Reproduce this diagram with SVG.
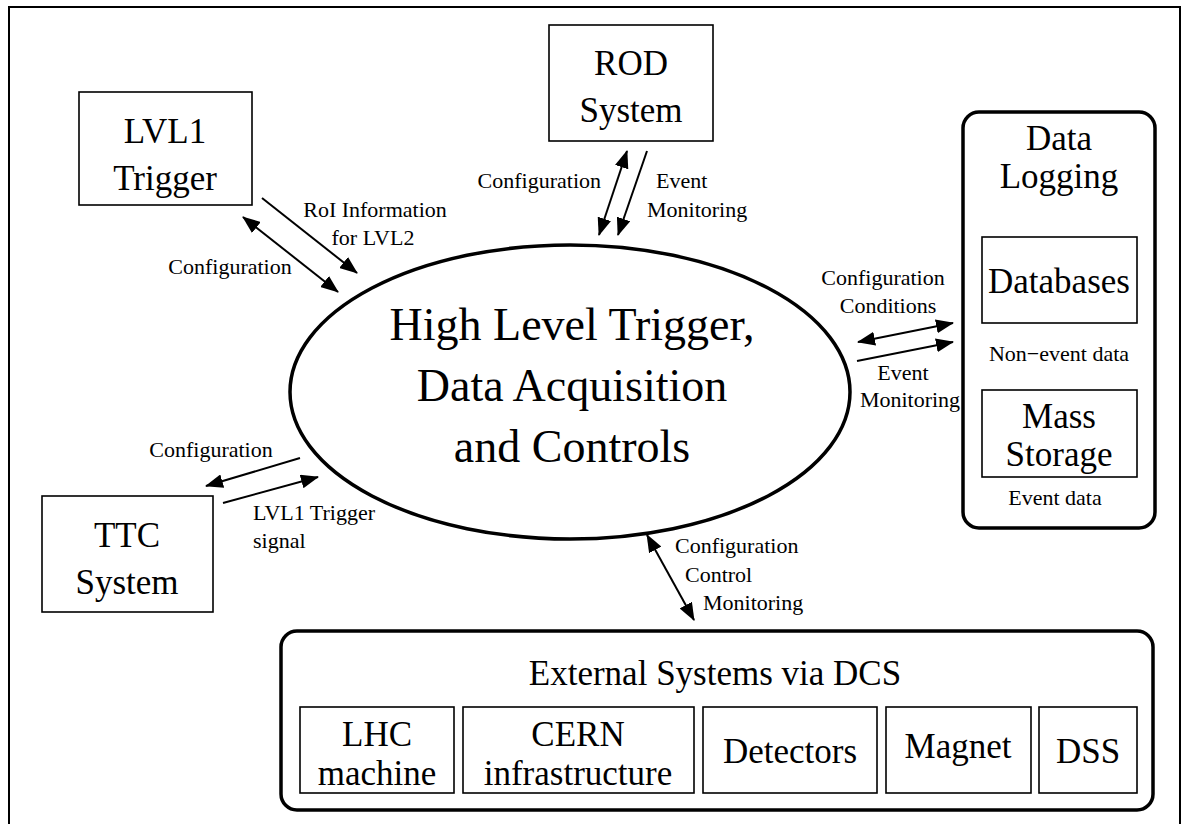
<svg xmlns="http://www.w3.org/2000/svg" width="1182" height="824" viewBox="0 0 1182 824">
<style>
text{font-family:"Liberation Serif","Times New Roman",serif;fill:#000}
.big{font-size:35px;text-anchor:middle}
.huge{font-size:46px;text-anchor:middle}
.sm{font-size:22px}
.mid{text-anchor:middle}
.end{text-anchor:end}
.box{fill:#fff;stroke:#000;stroke-width:1.6}
.rbox{fill:#fff;stroke:#000;stroke-width:3.5}
.c{stroke:#000;stroke-width:2;fill:none}
</style>
<defs>
<marker id="ah" markerWidth="18" markerHeight="14" refX="17" refY="7" orient="auto-start-reverse" markerUnits="userSpaceOnUse"><path d="M0,0 L18,7 L0,14 z" fill="#000"/></marker>
</defs>
<rect x="0" y="0" width="1182" height="824" fill="#fff"/>
<rect id="frame" x="9" y="7" width="1171" height="840" fill="none" stroke="#000" stroke-width="2"/>

<g id="hlt">
<ellipse cx="570" cy="392" rx="280" ry="147" fill="#fff" stroke="#000" stroke-width="3.5"/>
<text class="huge" x="572" y="340">High Level Trigger,</text>
<text class="huge" x="572" y="401">Data Acquisition</text>
<text class="huge" x="572" y="462">and Controls</text>
</g>

<g id="lvl1">
<rect class="box" x="79" y="92" width="173" height="113"/>
<text class="big" x="165" y="143">LVL1</text>
<text class="big" x="165" y="190">Trigger</text>
</g>

<g id="rod">
<rect class="box" x="549" y="25" width="164" height="116"/>
<text class="big" x="631" y="75">ROD</text>
<text class="big" x="631" y="122">System</text>
</g>

<g id="ttc">
<rect class="box" x="42" y="496" width="171" height="116"/>
<text class="big" x="127" y="547">TTC</text>
<text class="big" x="127" y="594">System</text>
</g>

<g id="datalogging">
<rect class="rbox" x="963" y="112" width="192" height="416" rx="16"/>
<text class="big" x="1059" y="150">Data</text>
<text class="big" x="1059" y="188">Logging</text>
<g id="databases">
<rect class="box" x="982" y="237" width="155" height="86"/>
<text class="big" x="1059" y="293">Databases</text>
</g>
<text class="sm mid" x="1059" y="361">Non−event data</text>
<g id="massstorage">
<rect class="box" x="982" y="390" width="155" height="87"/>
<text class="big" x="1059" y="428">Mass</text>
<text class="big" x="1059" y="466">Storage</text>
</g>
<text class="sm mid" x="1055" y="505">Event data</text>
</g>

<g id="external">
<rect class="rbox" x="281" y="631" width="872" height="179" rx="16"/>
<text class="big" x="715" y="685">External Systems via DCS</text>
<g id="lhc">
<rect class="box" x="300" y="707" width="154" height="86"/>
<text class="big" x="377" y="746">LHC</text>
<text class="big" x="377" y="785">machine</text>
</g>
<g id="cern">
<rect class="box" x="463" y="707" width="231" height="86"/>
<text class="big" x="578" y="746">CERN</text>
<text class="big" x="578" y="785">infrastructure</text>
</g>
<g id="detectors">
<rect class="box" x="703" y="707" width="174" height="86"/>
<text class="big" x="790" y="763">Detectors</text>
</g>
<g id="magnet">
<rect class="box" x="886" y="707" width="145" height="86"/>
<text class="big" x="958" y="758">Magnet</text>
</g>
<g id="dss">
<rect class="box" x="1039" y="707" width="98" height="86"/>
<text class="big" x="1088" y="763">DSS</text>
</g>
</g>

<g id="connectors">
<line class="c" x1="243" y1="217" x2="338" y2="292" marker-start="url(#ah)" marker-end="url(#ah)"/>
<line class="c" x1="262" y1="198" x2="357" y2="273" marker-end="url(#ah)"/>
<line class="c" x1="627" y1="151" x2="599" y2="235" marker-start="url(#ah)" marker-end="url(#ah)"/>
<line class="c" x1="647" y1="151" x2="618" y2="235" marker-end="url(#ah)"/>
<line class="c" x1="858" y1="342" x2="953" y2="323" marker-start="url(#ah)" marker-end="url(#ah)"/>
<line class="c" x1="857" y1="361" x2="953" y2="342" marker-end="url(#ah)"/>
<line class="c" x1="300" y1="458" x2="206" y2="486" marker-end="url(#ah)"/>
<line class="c" x1="223" y1="503" x2="318" y2="477" marker-end="url(#ah)"/>
<line class="c" x1="647" y1="535" x2="694" y2="620" marker-start="url(#ah)" marker-end="url(#ah)"/>
</g>

<g id="labels">
<text class="sm mid" x="375" y="217">RoI Information</text>
<text class="sm mid" x="373" y="245">for LVL2</text>
<text class="sm mid" x="230" y="274">Configuration</text>
<text class="sm end" x="601" y="188">Configuration</text>
<text class="sm" x="656" y="188">Event</text>
<text class="sm" x="647" y="217">Monitoring</text>
<text class="sm mid" x="883" y="285">Configuration</text>
<text class="sm mid" x="888" y="313">Conditions</text>
<text class="sm mid" x="903" y="380">Event</text>
<text class="sm mid" x="910" y="407">Monitoring</text>
<text class="sm mid" x="211" y="457">Configuration</text>
<text class="sm" x="253" y="520">LVL1 Trigger</text>
<text class="sm" x="253" y="548">signal</text>
<text class="sm" x="675" y="553">Configuration</text>
<text class="sm" x="685" y="582">Control</text>
<text class="sm" x="703" y="610">Monitoring</text>
</g>
</svg>
